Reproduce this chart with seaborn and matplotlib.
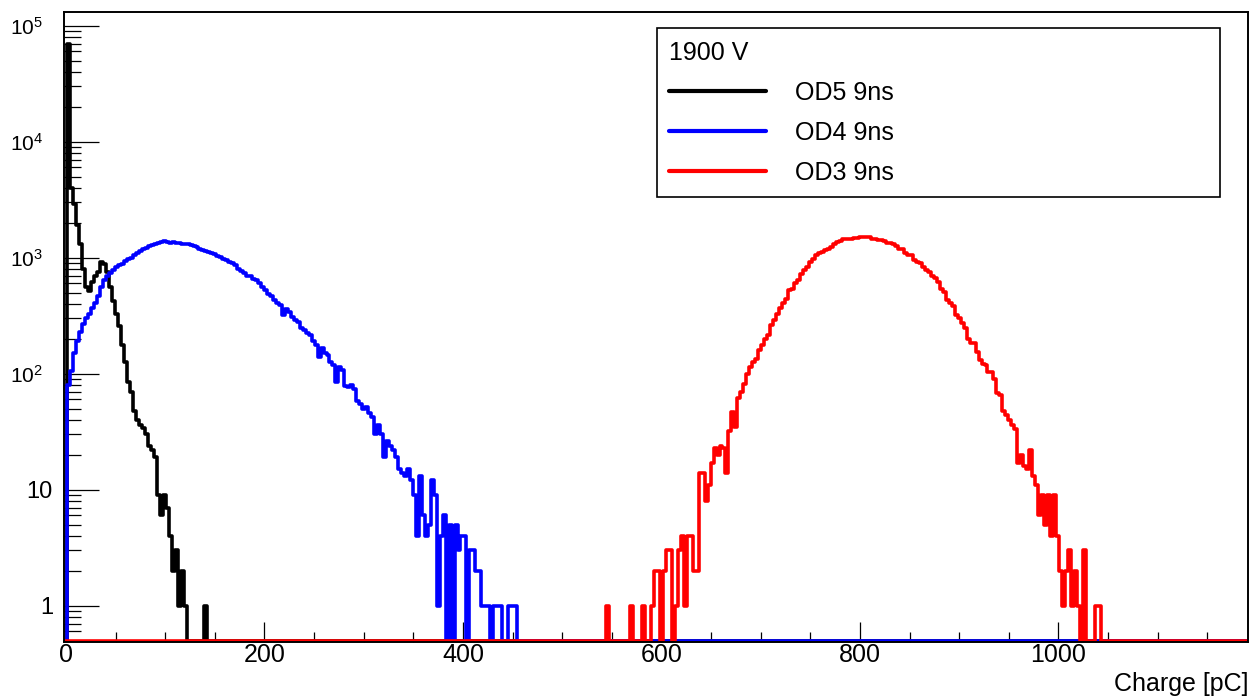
import numpy as np
import pandas as pd
import matplotlib
matplotlib.use("Agg")
import matplotlib.pyplot as plt
import seaborn as sns
from matplotlib.ticker import FixedLocator, NullFormatter
from matplotlib.transforms import ScaledTranslation

# ---------------- data (histograms, 3 pC bins) ----------------
bin_width = 3.0
first_edge = -1.5
n_bins = 398

series_names = ["OD5 9ns", "OD4 9ns", "OD3 9ns"]
series_colors = ["#000000", "#0000ff", "#ff0000"]

# OD5 : counts starting at bin index 1
od5_start = 1
od5_counts = [70000, 4000, 2900, 1900, 1300, 800, 560, 520, 620, 700, 760, 920, 880,
              750, 560, 420, 330, 260, 175, 125, 85, 70, 48, 40, 36, 34, 30, 24, 22,
              19, 9, 6, 9, 7, 4, 2, 3, 1, 2, 1, 0, 0, 0, 0, 0, 0, 1]

# OD4 : counts starting at bin index 1
od4_start = 1
od4_counts = [80, 105, 150, 190, 230, 270, 300, 330, 370, 410, 470, 560, 640, 700, 740,
              790, 830, 860, 880, 940, 980, 1000, 1050, 1100, 1150, 1190, 1220, 1250,
              1280, 1320, 1340, 1370, 1390, 1360, 1350, 1370, 1340,
              1330, 1320, 1310, 1300, 1290, 1270, 1240, 1200, 1170, 1140, 1110, 1090,
              1070, 1040, 1010, 980, 950, 920, 900, 860, 800, 770, 740, 700, 700, 660,
              640, 610, 560, 530, 490, 470, 430, 410, 390, 320, 360, 340, 310, 290, 280,
              250, 240, 225, 215, 190, 175, 140, 165, 150, 145, 125, 118, 85, 115, 108,
              78, 77, 80, 74,
              58, 55, 50, 52, 46, 42, 30, 36, 30, 19, 26, 24, 22, 19, 15, 14, 13, 15, 12,
              9, 4, 13, 6, 4, 5, 12, 9, 1, 4, 6, 0, 5, 0, 5, 3, 4, 4, 0, 3, 3, 2, 2, 1, 1,
              1, 0, 1, 1, 1, 0, 0, 1, 1, 1]

# OD3 : counts starting at bin index 182
od3_start = 182
od3_counts = [1, 0, 0, 0, 0, 0, 0, 0, 1, 0, 0, 0, 1, 0, 0, 1, 2, 2, 0, 2, 3, 3, 0, 1, 3,
              4, 1, 4, 4, 2, 2, 14, 14, 8, 11, 17, 23, 20, 24, 23, 14, 32, 47, 35,
              62, 70, 82, 100, 115, 125, 135, 160, 175, 200, 215, 265, 290, 330, 370,
              405, 440, 525, 540, 600, 640, 720, 780, 830, 920, 980, 1050, 1090, 1120,
              1160, 1200, 1240, 1300, 1360, 1380, 1440, 1450, 1440, 1460, 1480, 1490,
              1500, 1510, 1500, 1500,
              1460, 1440, 1420, 1410, 1380, 1340, 1330, 1300, 1250, 1200, 1180, 1100,
              1060, 1050, 960, 920, 900, 830, 790, 760, 700, 670, 620, 540, 510, 430,
              410, 380, 320, 300, 275, 250, 200, 185, 185, 155, 130, 120, 118, 104, 103,
              90, 68, 66, 48, 44, 40, 36, 33, 17, 20, 16, 15, 22, 13, 11, 6, 9, 5, 9, 4,
              9, 4, 2, 1, 2, 3, 1, 2, 1, 0, 3, 0, 0, 0, 1, 1]

x_major_ticks = [0, 200, 400, 600, 800, 1000]
x_tick_labels = ["0", "200", "400", "600", "800", "1000"]
y_major_ticks = [1, 10, 100, 1000, 10000, 100000]
y_tick_labels = ["1", "10", r"$\mathregular{10^{2}}$", r"$\mathregular{10^{3}}$",
                 r"$\mathregular{10^{4}}$", r"$\mathregular{10^{5}}$"]
legend_title = "1900 V"
x_label = "Charge [pC]"

# ---------------- style ----------------
sns.set_theme(style="ticks")
plt.rcParams["font.family"] = ["Liberation Sans", "DejaVu Sans"]
plt.rcParams["mathtext.fontset"] = "custom"
plt.rcParams["mathtext.rm"] = "Liberation Sans"
plt.rcParams["mathtext.it"] = "Liberation Sans:italic"
plt.rcParams["mathtext.bf"] = "Liberation Sans:bold"
plt.rcParams["text.color"] = "black"
plt.rcParams["axes.labelcolor"] = "black"
plt.rcParams["xtick.color"] = "black"
plt.rcParams["ytick.color"] = "black"

y_min, y_max = 0.49, 1.305e5
zero_floor = 0.5   # empty bins drawn along the bottom edge (ROOT style)

edges = first_edge + bin_width * np.arange(n_bins + 1)


def full_series(start, counts):
    y = np.zeros(n_bins)
    y[start:start + len(counts)] = counts
    y = np.where(y > 0, y, zero_floor)
    return np.append(y, y[-1])


frames = []
for name, start, counts in zip(series_names,
                               [od5_start, od4_start, od3_start],
                               [od5_counts, od4_counts, od3_counts]):
    frames.append(pd.DataFrame({"charge": edges, "entries": full_series(start, counts),
                                "series": name}))
df = pd.concat(frames, ignore_index=True)

fig = plt.figure(figsize=(12.5, 6.97), dpi=100)
ax = fig.add_axes([0.0512, 0.0796, 0.9472, 0.9027])

for name, color in zip(series_names, series_colors):
    sub = df[df["series"] == name]
    sns.lineplot(data=sub, x="charge", y="entries", drawstyle="steps-post",
                 color=color, lw=2.6, label=name, ax=ax, estimator=None, sort=False)

ax.set_yscale("log")
ax.set_xlim(-2, 1191)
ax.set_ylim(y_min, y_max)

# ticks
ax.xaxis.set_major_locator(FixedLocator(x_major_ticks))
ax.set_xticklabels(x_tick_labels)
ax.xaxis.set_minor_locator(FixedLocator(list(range(50, 1200, 50))))
ax.yaxis.set_major_locator(FixedLocator(y_major_ticks))
ax.set_yticklabels(y_tick_labels)
y_minor = [m * 10.0 ** e for e in range(-1, 5) for m in range(2, 10)]
y_minor = [v for v in y_minor if y_min < v < y_max]
ax.yaxis.set_minor_locator(FixedLocator(y_minor))
ax.yaxis.set_minor_formatter(NullFormatter())

ax.tick_params(axis="x", which="major", direction="in", length=14.4, width=0.9,
               color="black", labelsize=18, pad=1, labelcolor="black")
ax.tick_params(axis="x", which="minor", direction="in", length=6.9, width=0.9, color="black")
ax.tick_params(axis="y", which="major", direction="in", length=25, width=0.9,
               color="black", labelsize=17, pad=8, labelcolor="black")
ax.tick_params(axis="y", which="minor", direction="in", length=12.2, width=0.9, color="black")

# ROOT draws the 10^n labels a little smaller and further from the axis
shift = ScaledTranslation(-10 / 100.0, 0, fig.dpi_scale_trans)
for tick in ax.yaxis.get_major_ticks():
    lab = tick.label1
    if "10^" in lab.get_text():
        lab.set_fontsize(15)
        lab.set_transform(lab.get_transform() + shift)

for sp in ax.spines.values():
    sp.set_visible(True)
    sp.set_color("black")
    sp.set_linewidth(1.4)

ax.set_ylabel("")
ax.set_xlabel(x_label, loc="right", fontsize=18, color="black", labelpad=4)

leg = ax.legend(title=legend_title, loc="upper left",
                bbox_to_anchor=(0.5008, 0.0, 0.4756, 0.975), mode="expand",
                borderaxespad=0, fontsize=18, title_fontsize=18, frameon=True,
                fancybox=False, shadow=False, framealpha=1, borderpad=0.5,
                labelspacing=0.64, handlelength=3.88, handletextpad=1.15,
                alignment="left")
leg.get_frame().set_edgecolor("black")
leg.get_frame().set_linewidth(1.2)
for line in leg.get_lines():
    line.set_linewidth(3.0)
for txt in leg.get_texts():
    txt.set_color("black")
leg.get_title().set_color("black")

fig.savefig("out.png", dpi=100, facecolor="white")
